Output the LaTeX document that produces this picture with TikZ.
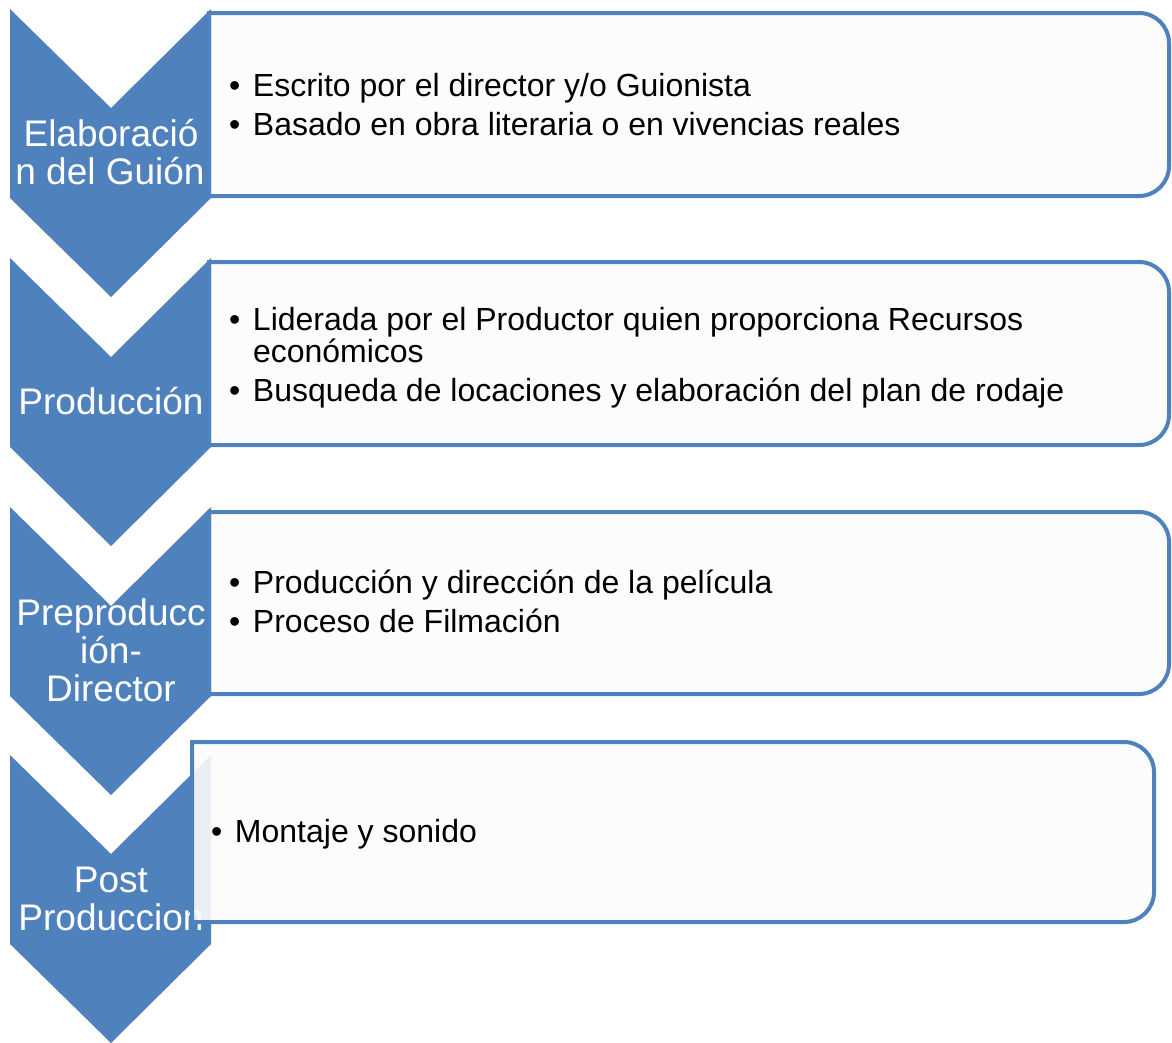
\documentclass[tikz,border=0pt]{standalone}
\usepackage{fontspec}
\setmainfont{Liberation Sans}
\definecolor{cblue}{HTML}{4F81BD}
\definecolor{boxfill}{HTML}{FCFCFC}
\begin{document}
\begin{tikzpicture}[x=1pt,y=-1pt,
  chev/.style={fill=cblue, draw=none},
  listbox/.style={draw=cblue, line width=4pt, fill=boxfill},
  chtext/.style={text=white, inner sep=0pt, outer sep=0pt, anchor=base, font=\fontsize{37}{38}\selectfont},
  btext/.style={text=black, inner sep=0pt, outer sep=0pt, anchor=base west, font=\fontsize{32}{38}\selectfont}]
\useasboundingbox[fill=white] (0,0) rectangle (1172,1042);

% boxes 1-3 (behind chevrons)
\foreach \T/\B in {13/196, 262/445, 512/694}{
  \path[listbox] (209,\T) -- (1139,\T) arc[start angle=-90, end angle=0, radius=30]
     -- (1169,\B-30) arc[start angle=0, end angle=90, radius=30] -- (209,\B) -- cycle;
}

% chevrons
\foreach \t in {9, 258, 507, 755}{
  \path[chev] (10,\t) -- (111,\t+99) -- (211,\t) -- (211,\t+189) -- (111,\t+288) -- (10,\t+189) -- cycle;
}

% chevron texts
\node[chtext] (c1a) at (111,146) {Elaboració};
\node[chtext] (c1b) at (110,184) {n del Guión};
\node[chtext] (c2a) at (111,414) {Producción};
\node[chtext] (c3a) at (111,625) {Preproducc};
\node[chtext] (c3b) at (111,663) {ión-};
\node[chtext] (c3c) at (111,701) {Director};
\node[chtext] (c4a) at (111,892) {Post};
\node[chtext] (c4b) at (111,930) {Produccion};

% box 4 (on top of chevron)
\path[listbox, fill opacity=0.9] (192,742) -- (1124,742) arc[start angle=-90, end angle=0, radius=30]
     -- (1154,892) arc[start angle=0, end angle=90, radius=30] -- (192,922) -- cycle;

% bullet texts
\node[btext] (b1a) at (229,96) {\makebox[24pt][l]{•}Escrito por el director y/o Guionista};
\node[btext] (b1b) at (229,135) {\makebox[24pt][l]{•}Basado en obra literaria o en vivencias reales};
\node[btext] (b2a) at (229,330) {\makebox[24pt][l]{•}Liderada por el Productor quien proporciona Recursos};
\node[btext] (b2b) at (253,362) {económicos};
\node[btext] (b2c) at (229,401) {\makebox[24pt][l]{•}Busqueda de locaciones y elaboración del plan de rodaje};
\node[btext] (b3a) at (229,593) {\makebox[24pt][l]{•}Producción y dirección de la película};
\node[btext] (b3b) at (229,632) {\makebox[24pt][l]{•}Proceso de Filmación};
\node[btext] (b4a) at (211,842) {\makebox[24pt][l]{•}Montaje y sonido};
\end{tikzpicture}
\end{document}
